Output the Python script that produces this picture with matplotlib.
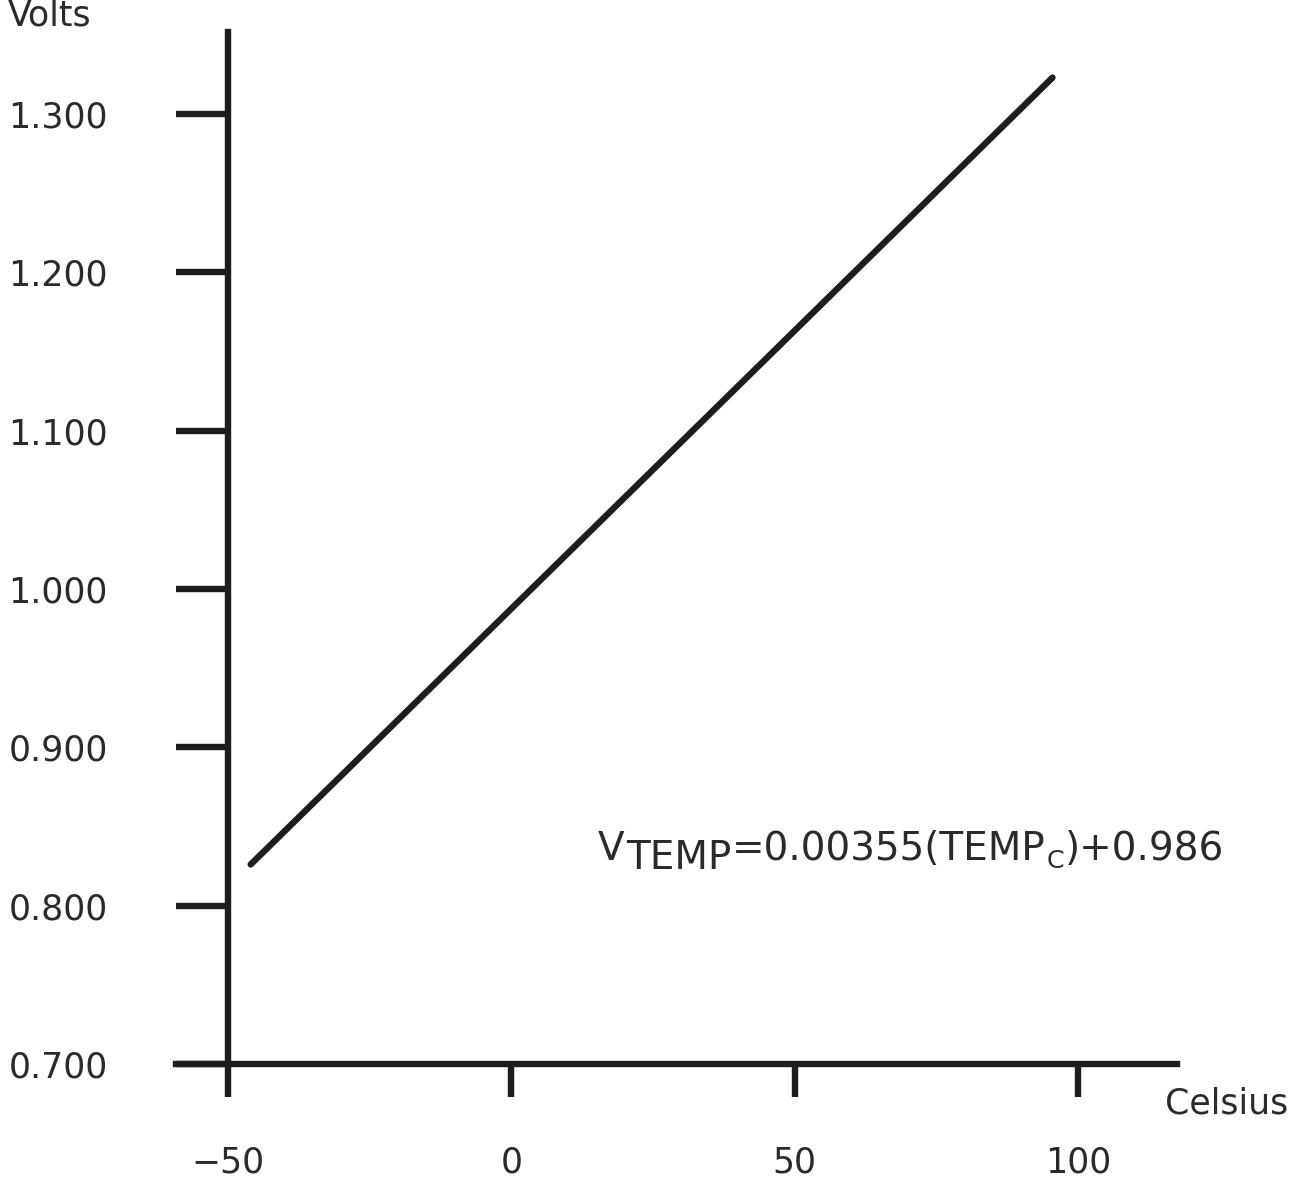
import matplotlib
matplotlib.use("Agg")
import matplotlib.pyplot as plt

# ---- data ----
temp_c = [-46.0, 95.5]
volts = [0.826, 1.323]
x_ticks = [-50, 0, 50, 100]
x_tick_labels = ["\u221250", "0", "50", "100"]
y_ticks = [0.7, 0.8, 0.9, 1.0, 1.1, 1.2, 1.3]
y_tick_labels = ["0.700", "0.800", "0.900", "1.000", "1.100", "1.200", "1.300"]

W, H, DPI = 1307, 1182, 100
INK = "#1e1c1d"
TXT = "#2a2a2a"
FONT = "DejaVu Sans"
FS = 25
FS_EQ = 28

plt.rcParams['font.family'] = [FONT]

fig = plt.figure(figsize=(W / DPI, H / DPI), dpi=DPI)
ax = fig.add_axes([0, 0, 1, 1])

# pixel mapping for layout
px_per_x = (1078 - 228) / 150.0
px_per_y = (1064 - 114) / 0.6
ax.set_xlim(-50 - 228 / px_per_x, -50 + (W - 228) / px_per_x)
ax.set_ylim(0.7 - (H - 1064) / px_per_y, 0.7 + 1064 / px_per_y)
ax.patch.set_alpha(0)

ax.plot(temp_c, volts, color=INK, lw=4.6, solid_capstyle='round')

for s in ['top', 'right']:
    ax.spines[s].set_visible(False)
ax.spines['left'].set_position(('data', -50))
ax.spines['bottom'].set_position(('data', 0.7))
ax.spines['left'].set_bounds(0.7, 0.7 + (1064 - 32) / px_per_y)
ax.spines['bottom'].set_bounds(-50 - (228 - 176) / px_per_x, -50 + (1177 - 228) / px_per_x)
for s in ['left', 'bottom']:
    ax.spines[s].set_linewidth(4.6)
    ax.spines[s].set_color(INK)

ax.set_xticks(x_ticks)
ax.set_xticklabels(x_tick_labels)
ax.set_yticks(y_ticks)
ax.set_yticklabels(y_tick_labels)
ax.tick_params(axis='y', direction='out', length=37.4, width=4.6, color=INK,
               pad=49, labelsize=FS, labelcolor=TXT)
ax.tick_params(axis='x', direction='out', length=23.8, width=4.6, color=INK,
               pad=35, labelsize=FS, labelcolor=TXT)

def ftxt(x, y, s, fs=FS):
    return fig.text(x / W, 1 - y / H, s, fontsize=fs, color=TXT,
                    va='baseline', ha='left', family=FONT)

ftxt(8, 25, "Volts")
ftxt(1165, 1113, "Celsius")

# equation: V_TEMP=0.00355(TEMP_C)+0.986 with lowered subscripts
fig.canvas.draw()
r = fig.canvas.get_renderer()
base = 860
eq_pieces = [("V", 0, FS_EQ), ("TEMP", 9, FS_EQ), ("=0.00355(TEMP", 0, FS_EQ),
             ("C", 8, FS_EQ * 0.65), (")+0.986", 0, FS_EQ)]
x = 598
for s, dy, fs in eq_pieces:
    t = ftxt(x, base + dy, s, fs)
    x += t.get_window_extent(renderer=r).width + 1

fig.savefig("out.png", dpi=DPI)
